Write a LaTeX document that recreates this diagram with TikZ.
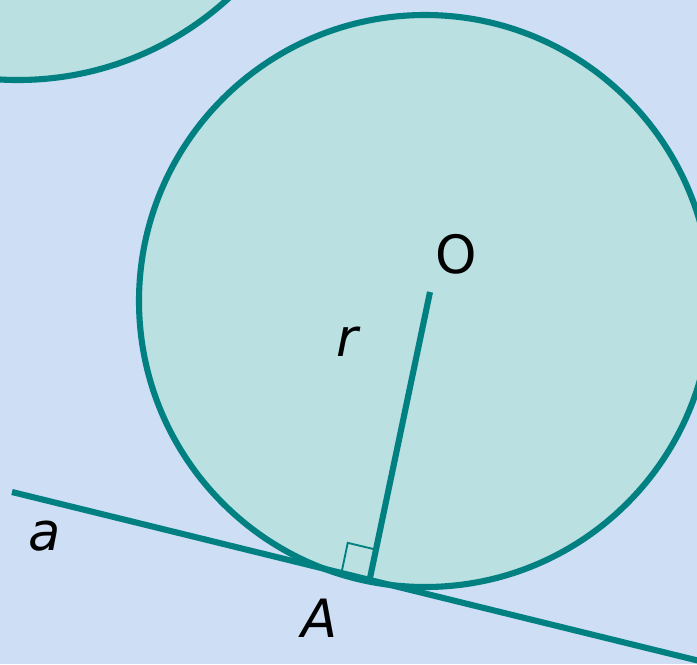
\documentclass[tikz,border=0pt]{standalone}
\usepackage{fontspec}
\setmainfont{DejaVu Sans}
\usetikzlibrary{calc}
\definecolor{bgblue}{RGB}{205, 222, 245}
\definecolor{diskfill}{RGB}{186, 224, 225}
\definecolor{tealline}{RGB}{0, 128, 128}
\begin{document}
\begin{tikzpicture}[
    x=0.03cm, y=-0.03cm,
    disk/.style={draw=tealline, fill=diskfill, line width=5.2pt},
    tangentline/.style={draw=tealline, line width=5.2pt},
    rightmark/.style={draw=tealline, line width=1.6pt},
    lbl/.style={font=\fontsize{45}{50}\selectfont, text=black, inner sep=0pt}
]

% Background
\fill [bgblue] (0,0) rectangle (697,664);
\useasboundingbox (0,0) rectangle (697,664);

% Points
\coordinate (O) at (425,301);
\coordinate (Rend) at (430,292);
\coordinate (A) at (370,578);
\coordinate (a1) at (12,492);
\coordinate (a2) at (720,666);

% Circles
\begin{scope}
\clip (0,0) rectangle (697,664);
\draw [disk] (18,-232) circle (312);
\draw [disk] (O) circle (286);
\end{scope}

% Tangent and radius
\draw [tangentline] (a1) -- (a2);
\draw [tangentline] (A) -- (Rend);

% Right angle
\coordinate (m1) at ($(A)!0.87cm!(a1)$);
\coordinate (m2) at ($(A)!0.87cm!(Rend)$);
\draw [rightmark] (m1) -- ($(m1)+(m2)-(A)$) -- (m2);

% Labels
\node (lblO) [lbl] at (456,254) {O};
\node (lblr) [lbl] at (347,342) {\itshape r};
\node (lblA) [lbl] at (320,618) {\itshape A};
\node (lbla) [lbl] at (45,536) {\itshape a};

\end{tikzpicture}
\end{document}
